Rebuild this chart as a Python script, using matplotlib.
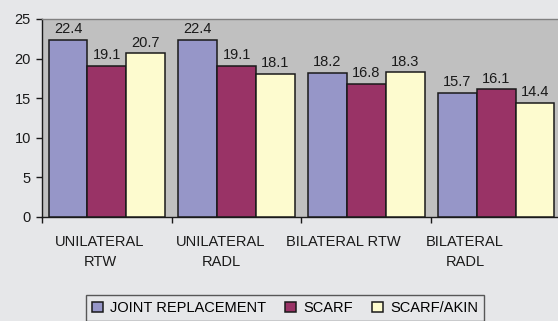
import matplotlib
matplotlib.use("Agg")
import matplotlib.pyplot as plt
import numpy as np

categories = ["UNILATERAL\nRTW", "UNILATERAL\nRADL", "BILATERAL RTW", "BILATERAL\nRADL"]
series_names = ["JOINT REPLACEMENT", "SCARF", "SCARF/AKIN"]
joint_replacement = [22.4, 22.4, 18.2, 15.7]
scarf = [19.1, 19.1, 16.8, 16.1]
scarf_akin = [20.7, 18.1, 18.3, 14.4]
y_ticks = [0, 5, 10, 15, 20, 25]

colors = ["#9696c8", "#993366", "#fdfbcf"]
bg = "#e6e7e9"
fs = 10.5

plt.rcParams["font.family"] = ["Liberation Sans", "DejaVu Sans"]

fig = plt.figure(figsize=(5.58, 3.21), dpi=100, facecolor=bg)
ax = fig.add_axes([0.0753, 0.324, 0.930, 0.617])
ax.set_facecolor("#c0c0c0")

x = np.arange(len(categories))
width = 0.3
for i, (vals, name) in enumerate(zip([joint_replacement, scarf, scarf_akin], series_names)):
    pos = x + (i - 1) * width
    bars = ax.bar(pos, vals, width, color=colors[i], edgecolor="#1a1a1a",
                  linewidth=1.1, label=name, zorder=3)
    for b, v in zip(bars, vals):
        ax.annotate(f"{v}", (b.get_x() + b.get_width() / 2, v),
                    xytext=(0, 2.5), textcoords="offset points",
                    ha="center", va="bottom", fontsize=fs, color="#1a1a1a")

ax.set_xlim(-0.5, 3.5)
ax.set_ylim(0, 25)
ax.set_yticks(y_ticks)
ax.tick_params(axis="y", length=4, width=1, direction="out", labelsize=fs,
               colors="#1a1a1a", pad=4)

# tick marks at category boundaries, labels placed separately
ax.set_xticks([-0.5, 0.5, 1.5, 2.5])
ax.set_xticklabels([])
ax.tick_params(axis="x", which="major", length=4, width=1, direction="out", colors="#1a1a1a")
label_pos = [-0.053, 0.88, 1.82, 2.76]
ax.set_xticks(label_pos, minor=True)
ax.set_xticklabels(categories, minor=True, fontsize=fs, color="#1a1a1a", linespacing=1.55)
ax.tick_params(axis="x", which="minor", length=0, pad=13)

for s in ["left", "bottom"]:
    ax.spines[s].set_color("#1a1a1a")
    ax.spines[s].set_linewidth(1)
ax.spines["top"].set_color("#808080")
ax.spines["top"].set_linewidth(1)
ax.spines["right"].set_visible(False)

leg = fig.legend(loc="upper center", bbox_to_anchor=(0.511, 0.08), ncol=3,
                 fontsize=fs, frameon=True, fancybox=False, edgecolor="#333333",
                 facecolor=bg, handlelength=0.75, handleheight=0.75,
                 handletextpad=0.5, columnspacing=1.3, borderpad=0.4,
                 borderaxespad=0)
leg.get_frame().set_linewidth(1)

fig.savefig("out.png", dpi=100, facecolor=bg)
